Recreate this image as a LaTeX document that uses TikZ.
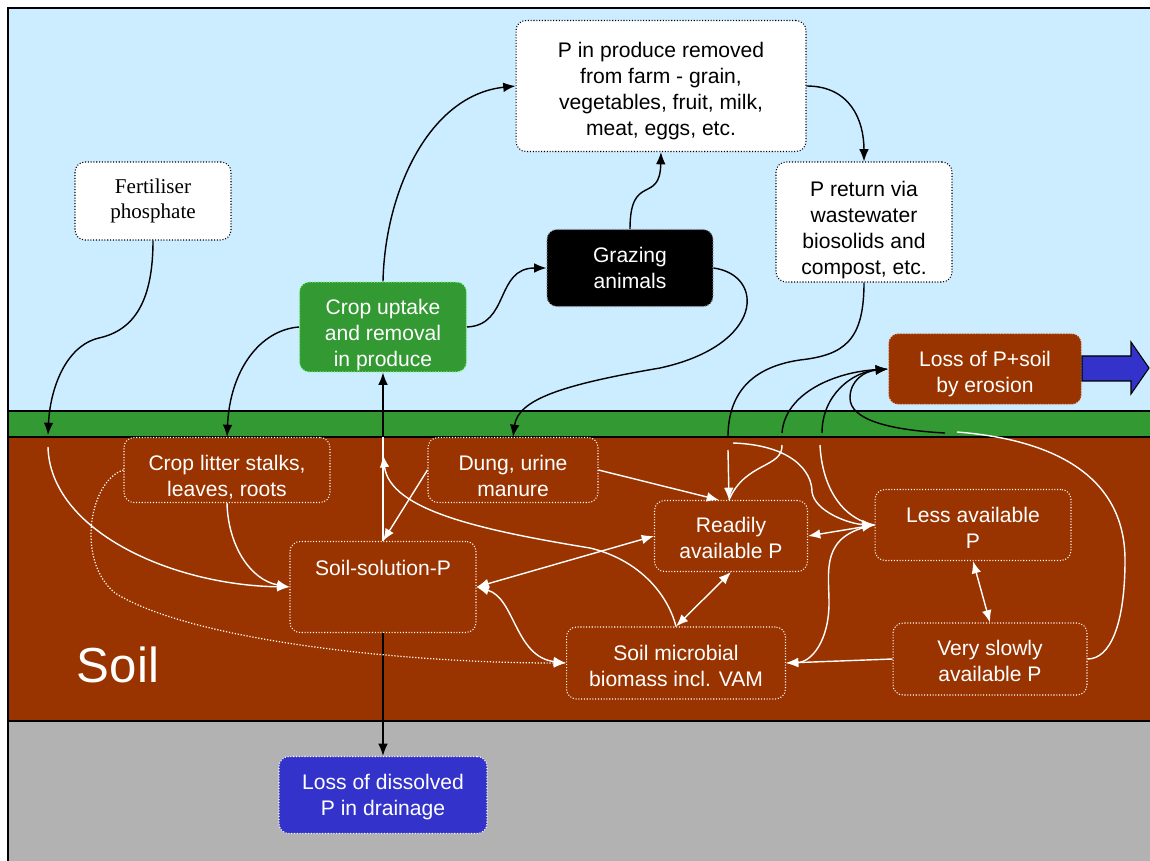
\documentclass[tikz,border=0pt]{standalone}
\usepackage{fontspec}
\setmainfont{Liberation Sans}
\newfontfamily\seriffam{Liberation Serif}
\usetikzlibrary{arrows.meta,calc}
\definecolor{sky}{HTML}{CCECFF}
\definecolor{grass}{HTML}{339933}
\definecolor{soil}{HTML}{993300}
\definecolor{subsoil}{HTML}{B2B2B2}
\definecolor{pblue}{HTML}{3333CC}
\newcommand\tdn[1]{\rule{0pt}{#1}}
\begin{document}
\begin{tikzpicture}[x=0.02cm,y=-0.02cm,
  font=\fontsize{12}{14.7}\selectfont,
  basebox/.style={rounded corners=0.2cm, densely dotted, line width=0.6pt, align=center, inner sep=0pt},
  wbox/.style={basebox, fill=white, draw=black, text=black},
  sbox/.style={basebox, fill=soil, draw=white, text=white},
  blk/.style={draw=black, line width=0.8pt},
  wht/.style={draw=white, line width=0.8pt},
  arr/.style={-{Latex[length=7pt,width=5.5pt]}},
  darr/.style={{Latex[length=7pt,width=5.5pt]}-{Latex[length=7pt,width=5.5pt]}}]
\useasboundingbox (0,0) rectangle (1150,861);
% background layers
\fill[sky] (8,8) rectangle (1150,411);
\fill[grass] (8,411) rectangle (1150,437);
\fill[soil] (8,437) rectangle (1150,721);
\fill[subsoil] (8,721) rectangle (1150,861);
\draw[line width=1.2pt] (1150,8) -- (8,8) -- (8,861);
\draw[line width=1.2pt] (8,411) -- (1150,411) (8,437) -- (1150,437) (8,721) -- (1150,721);

% nodes
\node[wbox, minimum width=3.12cm, minimum height=1.56cm, font=\seriffam\fontsize{12}{14.7}\selectfont] (fert) at (153,201) {Fertiliser\\phosphate};
\node[wbox, minimum width=5.8cm, minimum height=2.62cm] (prod) at (661,86) {\tdn{14.4pt}P in produce removed\\from farm - grain,\\vegetables, fruit, milk,\\meat, eggs, etc.};
\node[basebox, fill=black, draw=gray, text=white, minimum width=3.32cm, minimum height=1.54cm] (graz) at (630,268) {Grazing\\animals};
\node[basebox, fill=grass, draw=green!50!white, text=white, minimum width=3.34cm, minimum height=1.8cm] (crop) at (383,327) {\tdn{18.2pt}Crop uptake\\and removal\\in produce};
\node[wbox, minimum width=3.52cm, minimum height=2.4cm] (ret) at (864,222) {\tdn{17.8pt}P return via\\wastewater\\biosolids and\\compost, etc.};
\node[sbox, draw=white!75!soil, minimum width=3.86cm, minimum height=1.42cm] (eros) at (985,369) {\tdn{14pt}Loss of P+soil\\by erosion};
\node[sbox, minimum width=4.12cm, minimum height=1.3cm] (litter) at (227,470) {\tdn{16.8pt}Crop litter stalks,\\leaves, roots};
\node[sbox, minimum width=3.4cm, minimum height=1.3cm] (dung) at (513,470) {\tdn{15.6pt}Dung, urine\\manure};
\node[sbox, minimum width=3.72cm, minimum height=1.82cm,
  label={[text=white, anchor=north, yshift=-0.26cm]north:Soil-solution-P}] (ssp) at (383,587) {};
\node[sbox, minimum width=3.06cm, minimum height=1.42cm] (ready) at (731,536) {\tdn{11pt}Readily\\available P};
\node[sbox, minimum width=3.92cm, minimum height=1.42cm] (less) at (973,525) {\tdn{12.2pt}Less available\\P};
\node[sbox, minimum width=4.38cm, minimum height=1.44cm] (micro) at (676,663) {\tdn{11.6pt}Soil microbial\\biomass incl. VAM};
\node[sbox, minimum width=3.88cm, minimum height=1.44cm] (slow) at (990,659) {\tdn{11pt}Very slowly\\available P};
\node[basebox, fill=pblue, draw=white, text=white, minimum width=4.16cm, minimum height=1.54cm] (drain) at (383,795) {\tdn{11pt}Loss of dissolved\\P in drainage};
\node[text=white, font=\fontsize{28}{30}\selectfont] (soillbl) at (118,665) {Soil};

% erosion outflow arrow
\draw[fill=pblue, draw=black, line width=0.6pt] ($(eros.east)+(0,-13)$) -- ++(49,0) -- ++(0,-14) -- ++(18,26) -- ++(-18,26) -- ++(0,-13) -- ++(-49,0) -- cycle;

% ground-level coordinates
\coordinate (gf) at (48,435);
\coordinate (sf) at (48,447);
\coordinate (gc) at (383,437);
\coordinate (gr) at (728,437);
\coordinate (rw) at (728,450);
\coordinate (rl) at (733,443);
\coordinate (ge1) at (782,433);
\coordinate (se1) at (782,445);
\coordinate (ge2) at (822,433);
\coordinate (se2) at (820,445);
\coordinate (ge3) at (945,433);
\coordinate (se3) at (957,432);
\coordinate (mc) at (383,455);

% black connectors (above ground)
\draw[blk,arr] (fert.south) .. controls (153,300) and (135,330) .. (99,338) .. controls (65,346) and (50,390) .. (gf);
\draw[blk,arr] (crop.west) .. controls (260,330) and (230,370) .. (litter.north);
\draw[blk,arr] (crop.north) .. controls (385,190) and (430,95) .. (prod.west);
\draw[blk,arr] (crop.east) .. controls (510,325) and (495,268) .. (graz.west);
\draw[blk,arr] (graz.north) .. controls (630,172) and (660,205) .. (prod.south);
\draw[blk,arr] (prod.east) .. controls (850,86) and (864,120) .. (ret.north);
\draw[blk,arr] (graz.east) .. controls (765,275) and (765,345) .. (660,368) .. controls (560,385) and (518,400) .. (dung.north);
\draw[blk] (ret.south) .. controls (864,340) and (845,355) .. (800,360) .. controls (745,368) and (728,400) .. (gr);
\draw[blk,arr] (gc) -- (crop.south);
\draw[blk,arr] (ge1) .. controls (785,393) and (835,372) .. (eros.west);
\draw[blk,arr] (ge2) .. controls (822,395) and (852,372) .. (eros.west);
\draw[blk,arr] (ge3) .. controls (890,430) and (850,420) .. (850,398) .. controls (850,380) and (865,371) .. (eros.west);
\draw[blk,arr] (ssp.south) -- (drain.north);

% white connectors (in soil)
\draw[wht,arr] (sf) .. controls (50,530) and (170,585) .. (ssp.west);
\draw[wht,arr] (litter.south) .. controls (228,545) and (250,580) .. (ssp.west);
\draw[wht,arr] (dung.west) -- (ssp.north);
\draw[wht] (ssp.north) -- (gc);
\draw[wht,arr] (micro.north) .. controls (668,595) and (640,560) .. (590,548) .. controls (480,530) and (390,510) .. (mc);
\draw[wht,darr] (ssp.east) -- (ready.west);
\draw[wht,darr] (ssp.east) .. controls (515,598) and (515,657) .. (micro.west);
\draw[white, densely dotted, line width=0.7pt, arr] (litter.west) .. controls (90,480) and (75,560) .. (115,593) .. controls (190,640) and (400,663) .. (micro.west);
\draw[wht,arr] (dung.east) -- ($(ready.north)+(-12,0)$);
\draw[wht,arr] (rw) -- ($(ready.north)+(-2,0)$);
\draw[wht] (se1) .. controls (783,468) and (745,462) .. ($(ready.north)+(-2,0)$);
\draw[wht,arr] (rl) .. controls (790,445) and (812,470) .. (812,492) .. controls (815,512) and (850,524) .. (less.west);
\draw[wht] (se2) .. controls (822,485) and (840,518) .. (less.west);
\draw[wht] (se3) .. controls (1060,440) and (1125,480) .. (1125,560) .. controls (1125,625) and (1110,659) .. (slow.east);
\draw[wht,darr] (ready.south) -- (micro.north);
\draw[wht,darr] (ready.east) -- (less.west);
\draw[wht,arr] (less.west) .. controls (820,535) and (829,570) .. (829,603) .. controls (829,640) and (812,662) .. (micro.east);
\draw[wht,darr] (less.south) -- (slow.north);
\draw[wht,arr] (slow.west) -- (micro.east);
\end{tikzpicture}
\end{document}
